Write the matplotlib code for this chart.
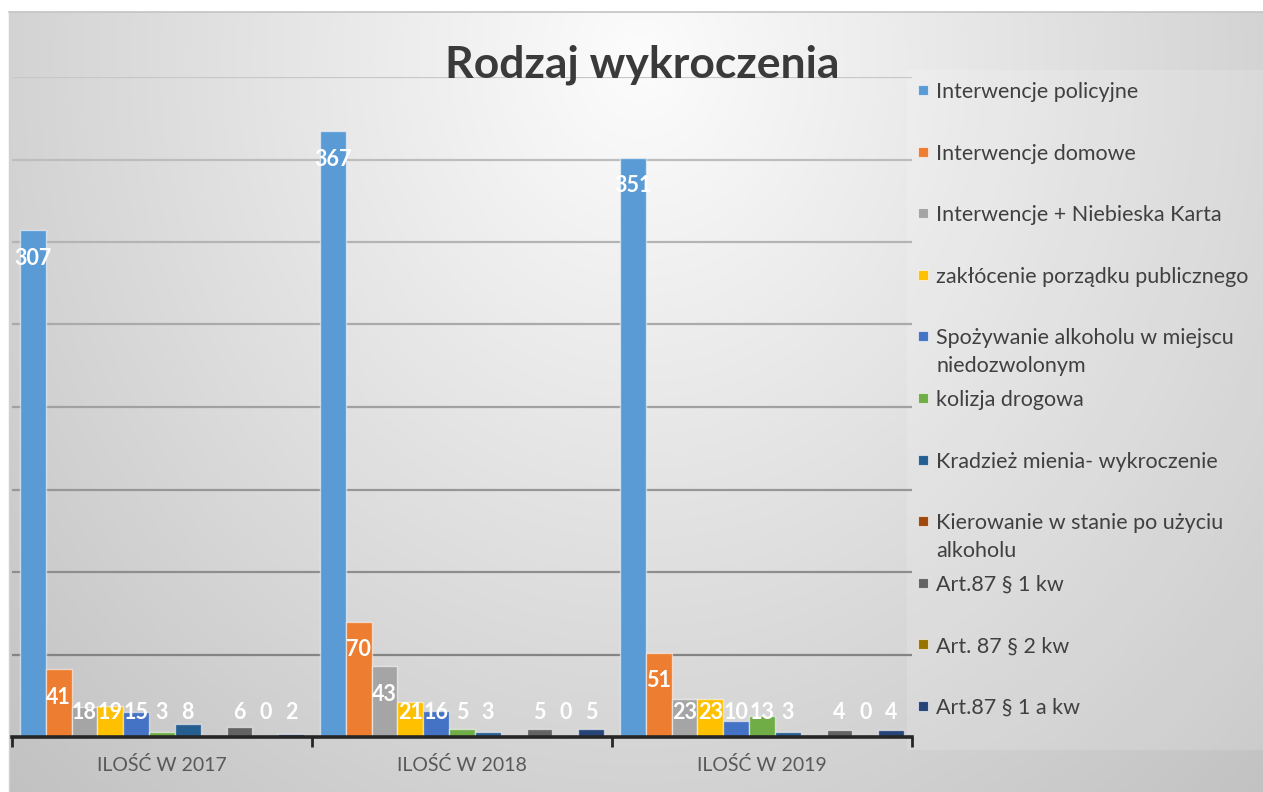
import numpy as np
import matplotlib
matplotlib.use("Agg")
import matplotlib.pyplot as plt
from matplotlib.patches import Rectangle

plt.rcParams['font.family'] = ['Lato', 'DejaVu Sans']

# --- data ---
years = ["ILOŚĆ W 2017", "ILOŚĆ W 2018", "ILOŚĆ W 2019"]
series_names = [
    "Interwencje policyjne",
    "Interwencje domowe",
    "Interwencje + Niebieska Karta",
    "zakłócenie porządku publicznego",
    "Spożywanie alkoholu w miejscu\nniedozwolonym",
    "kolizja drogowa",
    "Kradzież mienia- wykroczenie",
    "Kierowanie w stanie po użyciu\nalkoholu",
    "Art.87 § 1 kw",
    "Art. 87 § 2 kw",
    "Art.87 § 1 a kw",
]
policyjne = [307, 367, 351]
domowe = [41, 70, 51]
niebieska_karta = [18, 43, 23]
zaklocenie = [19, 21, 23]
spozywanie = [15, 16, 10]
kolizja = [3, 5, 13]
kradziez = [8, 3, 3]
kierowanie = [np.nan, np.nan, np.nan]
art87_1 = [6, 5, 4]
art87_2 = [0, 0, 0]
art87_1a = [2, 5, 4]
series_values = [policyjne, domowe, niebieska_karta, zaklocenie, spozywanie,
                 kolizja, kradziez, kierowanie, art87_1, art87_2, art87_1a]
colors = ["#5B9BD5", "#ED7D31", "#A5A5A5", "#FFC000", "#4472C4", "#70AD47",
          "#255E91", "#9E480E", "#636363", "#997300", "#264478"]

W, H = 1263, 792
fig = plt.figure(figsize=(W / 100, H / 100), dpi=100)

# background gradient (chart area style)
bg = fig.add_axes([0, 0, 1, 1], zorder=-10)
yy, xx = np.mgrid[0:H, 0:W]
d = np.sqrt(((xx - 640) / 700.0) ** 2 + ((yy - 60) / 800.0) ** 2)
g = np.clip(0.99 - 0.18 * d, 0, 1)
g[:12, :] = 1.0
g[:, :9] = 1.0
bg.imshow(np.dstack([g, g, g]), aspect="auto", extent=[0, W, H, 0], interpolation="bilinear")
bg.add_patch(Rectangle((907, 70), W - 907, 680, facecolor="white", alpha=0.15, edgecolor="none"))
bg.plot([9, W], [12, 12], color="#c4c4c4", lw=1.2)
bg.plot([9, 9], [12, H], color="#d0d0d0", lw=1.0)
bg.set_xlim(0, W); bg.set_ylim(H, 0)
bg.axis("off")

# main plot area
ax = fig.add_axes([12 / W, (H - 737) / H, 900 / W, 660 / H])
ax.patch.set_alpha(0)
n = len(series_names)
bw = 0.0861
x = np.arange(len(years))
for i, (vals, c) in enumerate(zip(series_values, colors)):
    pos = x - bw * n / 2 + (i + 0.5) * bw
    ax.bar(pos, vals, width=bw, color=c, edgecolor=(1, 1, 1, 0.55), linewidth=1, zorder=3)
    for px, v in zip(pos, vals):
        if np.isnan(v):
            continue
        ax.text(px, max(v - 17, 15), f"{v:g}", ha="center", va="center", color="white",
                fontsize=15.5, fontweight="bold", zorder=5)

ax.set_xlim(-0.5, 2.5)
ax.set_ylim(0, 400)
ax.set_yticks(np.arange(0, 401, 50))
ax.tick_params(axis="y", length=0, labelleft=False)
ax.yaxis.grid(True, zorder=0)
glines = ax.get_ygridlines()
for k, gl in enumerate(glines):
    t = k / (len(glines) - 1)
    shade = 0.48 + 0.30 * t
    gl.set_color((shade, shade, shade))
    gl.set_linewidth(1.6)
for s in ["top", "right", "left"]:
    ax.spines[s].set_visible(False)
ax.spines["bottom"].set_color("#262626")
ax.spines["bottom"].set_linewidth(2.6)
ax.spines["bottom"].set_zorder(4)
ax.set_xticks(x)
ax.set_xticklabels(years, fontsize=14, color="#595959")
ax.tick_params(axis="x", which="major", length=0, pad=14)
ax.set_xticks([-0.5, 0.5, 1.5, 2.5], minor=True)
ax.tick_params(axis="x", which="minor", length=7, width=2, color="#262626")

# title
fig.text(642 / W, 1 - 65 / H, "Rodzaj wykroczenia", ha="center", va="center",
         fontsize=32, fontweight="bold", color="#3a3a3a")

# legend drawn manually to match spacing
for i, (name, c) in enumerate(zip(series_names, colors)):
    yc = 90 + i * 61.6
    fig.patches.append(Rectangle((918 / W, 1 - (yc + 5) / H), 10 / W, 10 / H,
                                 transform=fig.transFigure, facecolor=c,
                                 edgecolor=(1, 1, 1, 0.6), lw=0.8))
    fig.text(936 / W, 1 - (yc - 8) / H, name, ha="left", va="top", fontsize=15.5,
             color="#404040", linespacing=1.5)

fig.savefig("out.png", dpi=100)
